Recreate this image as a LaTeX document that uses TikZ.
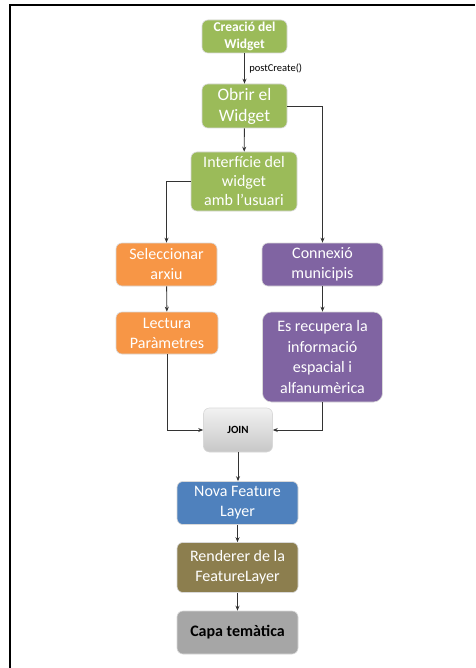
\documentclass[tikz,border=0pt]{standalone}
\usepackage{fontspec}
\setmainfont{Carlito}
\usetikzlibrary{arrows.meta}
\definecolor{cgreen}{HTML}{9BBB59}
\definecolor{corange}{HTML}{F79646}
\definecolor{cpurple}{HTML}{8064A2}
\definecolor{cblue}{HTML}{4F81BD}
\definecolor{colive}{HTML}{8C7E4E}
\definecolor{cgray}{HTML}{A6A6A6}
\definecolor{cline}{HTML}{333333}
\tikzset{
  box/.style={draw=white!85!black, line width=0.6pt, rounded corners=6pt, align=center, inner sep=2pt, text=white},
  txt/.style={font=\fontsize{16}{20}\selectfont},
  conn/.style={draw=cline, line width=0.9pt, -{Stealth[length=5pt,width=4pt]}},
}
\begin{document}
\begin{tikzpicture}[x=1pt,y=-1pt]
\useasboundingbox (0,0) rectangle (475,668);
\fill[white] (0,0) rectangle (475,668);
\draw[line width=2pt] (9.5,668) -- (9.5,5.5) -- (475,5.5);

\node[box, fill=cgreen, minimum width=85pt, minimum height=33pt, font=\bfseries\fontsize{13.5}{16.5}\selectfont] (create) at (244.5,36.5) {Creació del\\Widget};
\node[box, fill=cgreen, minimum width=85pt, minimum height=44pt, font=\fontsize{17.5}{21}\selectfont] (obrir) at (244.5,106) {Obrir el\\Widget};
\node[box, fill=cgreen, minimum width=106pt, minimum height=59pt, font=\fontsize{16}{19}\selectfont] (inter) at (244,181.5) {Interfície del\\widget\\amb l’usuari};
\node[box, fill=corange, minimum width=101pt, minimum height=43pt, txt] (sel) at (166.5,264.5) {Seleccionar\\arxiu};
\node[box, fill=corange, minimum width=102pt, minimum height=42pt, txt] (lect) at (167,333) {Lectura\\Paràmetres};
\node[box, fill=cpurple, minimum width=121pt, minimum height=43pt, txt] (conn) at (322.5,264.5) {Connexió\\municipis};
\node[box, fill=cpurple, rounded corners=9pt, minimum width=120pt, minimum height=90pt, font=\fontsize{16}{20.5}\selectfont] (recup) at (322.5,357) {Es recupera la\\informació\\espacial i\\alfanumèrica};
\node[box, top color=white!95!black, bottom color=white!78!black, minimum width=69pt, minimum height=44pt, text=black, font=\bfseries\fontsize{11}{13}\selectfont] (join) at (238,430) {JOIN};
\node[box, fill=cblue, minimum width=121pt, minimum height=43pt, txt] (nova) at (237.5,503) {Nova Feature\\Layer};
\node[box, fill=colive, minimum width=121pt, minimum height=50pt, txt] (rend) at (237.5,567.5) {Renderer de la\\FeatureLayer};
\node[box, fill=cgray, minimum width=121pt, minimum height=43pt, text=black, font=\bfseries\fontsize{16}{20}\selectfont] (capa) at (237.5,632.5) {Capa temàtica};

\draw[conn] (create) -- node[right, xshift=1pt, font=\fontsize{10.5}{12}\selectfont, text=black] {postCreate()} (obrir);
\draw[conn] (obrir.east) -| (conn.north);
\draw[conn] (obrir) -- (inter);
\draw[conn] (inter.west) -| (sel.north);
\draw[conn] (sel) -- (lect);
\draw[conn] (conn) -- (recup);
\draw[conn] (lect.south) |- (join.west);
\draw[conn] (recup.south) |- (join.east);
\draw[conn] (join.south) -- (join.south |- nova.north);
\draw[conn] (nova) -- (rend);
\draw[conn] (rend) -- (capa);
\end{tikzpicture}
\end{document}
